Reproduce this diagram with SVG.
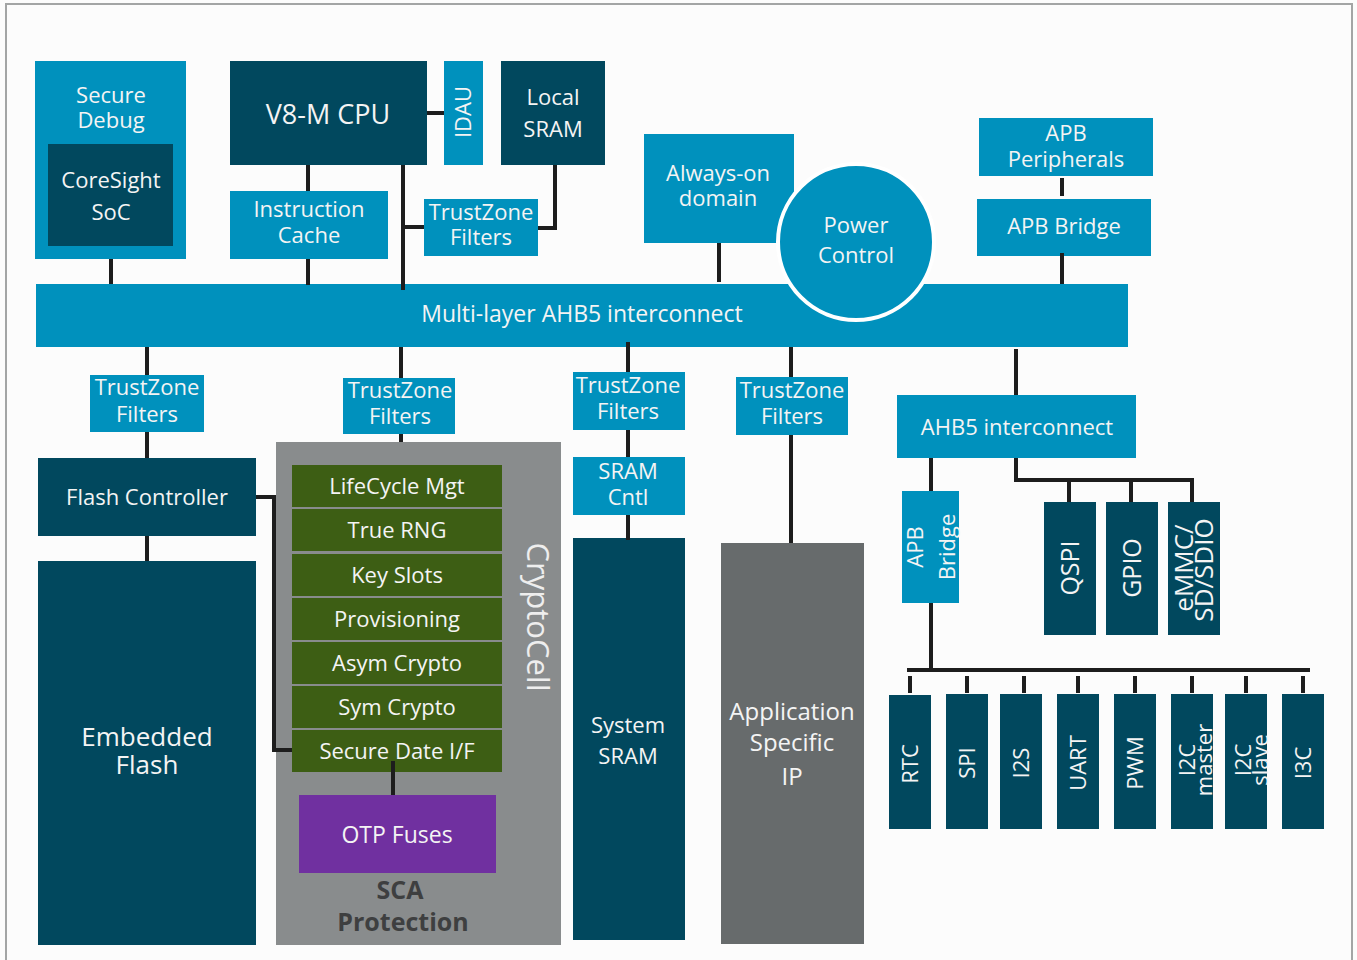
<svg xmlns="http://www.w3.org/2000/svg" width="1357" height="960" viewBox="0 0 1357 960">
<style>
.lb{fill:#0091bd}
.dk{fill:#01485e}
.gr{fill:#3d5e14}
.t{font-family:"Open Sans","Liberation Sans",sans-serif;font-size:22px;fill:#f4f4f4;text-anchor:middle}
.c{stroke:#1d1d1d;stroke-width:4;fill:none}
</style>
<rect x="0" y="0" width="1357" height="960" fill="#fcfcfc"/>
<path d="M6,960 V4 H1352 V960" fill="none" stroke="#a3a5a5" stroke-width="2"/>

<g id="secure-debug">
<rect class="lb" x="35" y="61" width="151" height="198"/>
<text class="t" x="111" y="103">Secure</text>
<text class="t" x="111" y="128">Debug</text>
</g>
<g id="coresight">
<rect class="dk" x="48" y="144" width="125" height="102"/>
<text class="t" x="111" y="188">CoreSight</text>
<text class="t" x="111" y="220">SoC</text>
</g>
<g id="cpu">
<rect class="dk" x="230" y="61" width="197" height="104"/>
<text class="t" x="328" y="124" style="font-size:27px">V8-M CPU</text>
</g>
<g id="idau">
<rect class="lb" x="444" y="61" width="39" height="104"/>
<text class="t" transform="translate(471,112) rotate(-90)">IDAU</text>
</g>
<g id="local-sram">
<rect class="dk" x="501" y="61" width="104" height="104"/>
<text class="t" x="553" y="105">Local</text>
<text class="t" x="553" y="137">SRAM</text>
</g>
<g id="icache">
<rect class="lb" x="230" y="191" width="158" height="68"/>
<text class="t" x="309" y="217">Instruction</text>
<text class="t" x="309" y="243">Cache</text>
</g>
<g id="tz-top">
<rect class="lb" x="424" y="199" width="114" height="57"/>
<text class="t" x="481" y="220">TrustZone</text>
<text class="t" x="481" y="245">Filters</text>
</g>
<g id="always-on">
<rect class="lb" x="644" y="134" width="150" height="109"/>
<text class="t" x="718" y="181">Always-on</text>
<text class="t" x="718" y="206">domain</text>
</g>
<g id="apb-periph">
<rect class="lb" x="979" y="118" width="174" height="58"/>
<text class="t" x="1066" y="141">APB</text>
<text class="t" x="1066" y="167">Peripherals</text>
</g>
<g id="apb-bridge-top">
<rect class="lb" x="977" y="199" width="174" height="57"/>
<text class="t" x="1064" y="234">APB Bridge</text>
</g>
<g id="ahb-bar">
<rect class="lb" x="36" y="284" width="1092" height="63"/>
<text class="t" x="582" y="322" style="font-size:23px">Multi-layer AHB5 interconnect</text>
</g>
<g id="power-control">
<circle cx="856" cy="242" r="78" fill="#0091bd" stroke="#ffffff" stroke-width="4"/>
<text class="t" x="856" y="233">Power</text>
<text class="t" x="856" y="263">Control</text>
</g>

<g id="tz1">
<rect class="lb" x="90" y="375" width="114" height="57"/>
<text class="t" x="147" y="395">TrustZone</text>
<text class="t" x="147" y="422">Filters</text>
</g>
<g id="flash-ctrl">
<rect class="dk" x="38" y="458" width="218" height="78"/>
<text class="t" x="147" y="505">Flash Controller</text>
</g>
<g id="emb-flash">
<rect class="dk" x="38" y="561" width="218" height="384"/>
<text class="t" x="147" y="746" style="font-size:26px">Embedded</text>
<text class="t" x="147" y="774" style="font-size:26px">Flash</text>
</g>
<g id="tz2">
<rect class="lb" x="343" y="378" width="112" height="56"/>
<text class="t" x="400" y="398">TrustZone</text>
<text class="t" x="400" y="424">Filters</text>
</g>
<g id="cryptocell">
<rect x="276" y="442" width="285" height="503" fill="#898c8d"/>
<text class="t" transform="translate(527,617) rotate(90)" style="font-size:31px;fill:#eeeeee">CryptoCell</text>
<text x="400" y="899" text-anchor="middle" style="font-family:'Open Sans','Liberation Sans',sans-serif;font-size:25px;font-weight:bold;fill:#3e3f40">SCA</text>
<text x="403" y="931" text-anchor="middle" style="font-family:'Open Sans','Liberation Sans',sans-serif;font-size:25px;font-weight:bold;fill:#3e3f40">Protection</text>
</g>
<g id="lifecycle"><rect class="gr" x="292" y="465" width="210" height="42"/><text class="t" x="397" y="494">LifeCycle Mgt</text></g>
<g id="trng"><rect class="gr" x="292" y="509" width="210" height="42"/><text class="t" x="397" y="538">True RNG</text></g>
<g id="keyslots"><rect class="gr" x="292" y="554" width="210" height="42"/><text class="t" x="397" y="583">Key Slots</text></g>
<g id="provisioning"><rect class="gr" x="292" y="598" width="210" height="42"/><text class="t" x="397" y="627">Provisioning</text></g>
<g id="asym"><rect class="gr" x="292" y="642" width="210" height="42"/><text class="t" x="397" y="671">Asym Crypto</text></g>
<g id="sym"><rect class="gr" x="292" y="686" width="210" height="42"/><text class="t" x="397" y="715">Sym Crypto</text></g>
<g id="secure-date"><rect class="gr" x="292" y="730" width="210" height="42"/><text class="t" x="397" y="759">Secure Date I/F</text></g>
<g id="otp">
<rect x="299" y="795" width="197" height="78" fill="#7030a0"/>
<text class="t" x="397" y="843" style="font-size:23px">OTP Fuses</text>
</g>
<g id="tz3">
<rect class="lb" x="573" y="372" width="112" height="58"/>
<text class="t" x="628" y="393">TrustZone</text>
<text class="t" x="628" y="419">Filters</text>
</g>
<g id="sram-cntl">
<rect class="lb" x="573" y="457" width="112" height="58"/>
<text class="t" x="628" y="479">SRAM</text>
<text class="t" x="628" y="505">Cntl</text>
</g>
<g id="system-sram">
<rect class="dk" x="573" y="538" width="112" height="402"/>
<text class="t" x="628" y="733">System</text>
<text class="t" x="628" y="764">SRAM</text>
</g>
<g id="tz4">
<rect class="lb" x="736" y="377" width="112" height="58"/>
<text class="t" x="792" y="398">TrustZone</text>
<text class="t" x="792" y="424">Filters</text>
</g>
<g id="app-ip">
<rect x="721" y="543" width="143" height="401" fill="#676b6c"/>
<text class="t" x="792" y="720" style="font-size:24px">Application</text>
<text class="t" x="792" y="751" style="font-size:24px">Specific</text>
<text class="t" x="792" y="785" style="font-size:24px">IP</text>
</g>
<g id="ahb5">
<rect class="lb" x="897" y="395" width="239" height="63"/>
<text class="t" x="1017" y="435">AHB5 interconnect</text>
</g>
<g id="apb-bridge">
<rect class="lb" x="902" y="491" width="57" height="112"/>
<text class="t" transform="translate(923,547) rotate(-90)">APB</text>
<text class="t" transform="translate(955,547) rotate(-90)">Bridge</text>
</g>
<g id="qspi"><rect class="dk" x="1044" y="502" width="52" height="133"/><text class="t" transform="translate(1079,568) rotate(-90)" style="font-size:25px">QSPI</text></g>
<g id="gpio"><rect class="dk" x="1106" y="502" width="52" height="133"/><text class="t" transform="translate(1141,568) rotate(-90)" style="font-size:25px">GPIO</text></g>
<g id="emmc"><rect class="dk" x="1168" y="502" width="52" height="133"/>
<text class="t" transform="translate(1193,568) rotate(-90)" style="font-size:26px">eMMC/</text>
<text class="t" transform="translate(1213,570) rotate(-90)" style="font-size:26px">SD/SDIO</text></g>
<g id="rtc"><rect class="dk" x="889" y="695" width="42" height="134"/><text class="t" transform="translate(918,764) rotate(-90)">RTC</text></g>
<g id="spi"><rect class="dk" x="946" y="694" width="42" height="135"/><text class="t" transform="translate(975,763) rotate(-90)">SPI</text></g>
<g id="i2s"><rect class="dk" x="1000" y="694" width="42" height="135"/><text class="t" transform="translate(1029,763) rotate(-90)">I2S</text></g>
<g id="uart"><rect class="dk" x="1057" y="694" width="42" height="135"/><text class="t" transform="translate(1086,763) rotate(-90)">UART</text></g>
<g id="pwm"><rect class="dk" x="1114" y="694" width="42" height="135"/><text class="t" transform="translate(1143,763) rotate(-90)">PWM</text></g>
<g id="i2c-master"><rect class="dk" x="1171" y="694" width="42" height="135"/>
<text class="t" transform="translate(1195,760) rotate(-90)">I2C</text>
<text class="t" transform="translate(1212,760) rotate(-90)">master</text></g>
<g id="i2c-slave"><rect class="dk" x="1225" y="694" width="42" height="135"/>
<text class="t" transform="translate(1251,760) rotate(-90)">I2C</text>
<text class="t" transform="translate(1268,760) rotate(-90)">slave</text></g>
<g id="i3c"><rect class="dk" x="1282" y="694" width="42" height="135"/><text class="t" transform="translate(1311,763) rotate(-90)">I3C</text></g>

<g id="connectors" class="c">
<path d="M111,259V284"/>
<path d="M308,165V191"/>
<path d="M308,259V285"/>
<path d="M403,165V290"/>
<path d="M403,227H424"/>
<path d="M427,113H444"/>
<path d="M555,165V228H538"/>
<path d="M719,243V282"/>
<path d="M1062,178V196"/>
<path d="M1062,253V284"/>
<path d="M147,347V375"/>
<path d="M147,432V458"/>
<path d="M147,536V561"/>
<path d="M256,497H274V750H292"/>
<path d="M401,347V378"/>
<path d="M401,434V442"/>
<path d="M393,761V795"/>
<path d="M628,342V372"/>
<path d="M628,430V457"/>
<path d="M628,515V540"/>
<path d="M791,347V377"/>
<path d="M791,435V543"/>
<path d="M1016,349V395"/>
<path d="M931,458V491"/>
<path d="M1016,458V480H1192V502"/>
<path d="M1069,480V502"/>
<path d="M1131,480V502"/>
<path d="M931,603V670"/>
<path d="M907,670H1310"/>
<path d="M910,676V693M967,676V693M1024,676V693M1078,676V693M1135,676V693M1192,676V693M1246,676V693M1303,676V693"/>
</g>
</svg>
